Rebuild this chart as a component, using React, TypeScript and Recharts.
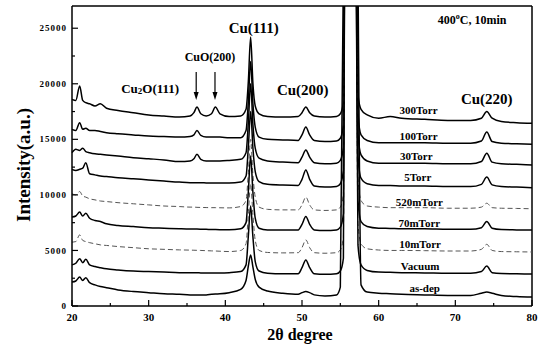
import React from 'react';
import { LineChart, Line, XAxis, YAxis, ReferenceLine, ReferenceDot } from 'recharts';

const SERIF = '"Liberation Serif", "Times New Roman", serif';

const twoTheta = [
  20, 20.5, 21.0, 21.4, 21.8, 22.3, 23.0, 23.7, 24.5, 26, 28, 30, 32, 34,
  35.4, 35.9, 36.3, 36.8, 37.5, 38.2, 38.7, 39.3, 40.5, 42.0, 42.7, 43.0, 43.3, 43.6, 43.9, 44.4,
  45.5, 47.5, 49.5, 50.0, 50.5, 51.0, 51.6, 53.0, 54.5, 55.0, 55.4, 55.6, 56.3, 57.0, 57.3, 57.7,
  58.5, 60, 61.5, 63, 66, 69, 72, 73.4, 74.1, 74.8, 76, 78, 80,
];

const s300Torr = [
  18600, 18500, 19800, 18500, 18300, 18200, 18000, 18200, 17800, 17600, 17400, 17200, 17100, 17000,
  17100, 17400, 17900, 17300, 17100, 17300, 17900, 17300, 17050, 17100, 17700, 20200, 24200, 20000, 18000, 17300,
  17050, 17000, 17050, 17400, 17900, 17400, 17100, 17000, 17050, 17300, 18300, 40000, 80000, 40000, 19000, 17700,
  17200, 16900, 17050, 16900, 16800, 16700, 16700, 16900, 17500, 16900, 16600, 16500, 16450,
];
const s100Torr = [
  15900, 15800, 16500, 15900, 16000, 15800, 15800, 15700, 15600, 15500, 15400, 15300, 15250, 15200,
  15250, 15400, 15800, 15350, 15200, 15200, 15200, 15200, 15150, 15150, 15800, 18400, 22000, 18200, 16100, 15200,
  15000, 14950, 14900, 15400, 16100, 15400, 14900, 14800, 14850, 15100, 16300, 40000, 80000, 40000, 17300, 15400,
  14900, 14700, 14700, 14700, 14700, 14650, 14650, 14850, 15650, 14800, 14650, 14600, 14550,
];
const s30Torr = [
  13800, 14100, 14000, 14200, 13900, 13800, 13700, 13650, 13600, 13500, 13350, 13250, 13150, 13000,
  13050, 13250, 13650, 13200, 13050, 13050, 13050, 13050, 13100, 13200, 13800, 16500, 20000, 16300, 14200, 13300,
  13050, 12950, 12900, 13400, 14050, 13400, 12900, 12800, 12850, 13100, 14300, 40000, 80000, 40000, 15500, 13600,
  13050, 12850, 12850, 12850, 12850, 12800, 12800, 13000, 13750, 12950, 12800, 12750, 12700,
];
const s5Torr = [
  12300, 12200, 12300, 12400, 12900, 11900, 11800, 11700, 11650, 11550, 11450, 11350, 11250, 11150,
  11100, 11100, 11100, 11100, 11080, 11070, 11070, 11070, 11070, 11150, 11700, 14300, 17500, 14200, 12100, 11200,
  10950, 10880, 10850, 11400, 12250, 11400, 10800, 10700, 10750, 11000, 12200, 40000, 80000, 40000, 13500, 11500,
  11000, 10850, 10850, 10800, 10800, 10750, 10750, 10950, 11600, 10900, 10750, 10700, 10650,
];
const s520mTorr = [
  10100, 10000, 10300, 9900, 9800, 9650, 9550, 9450, 9400, 9300, 9200, 9100, 9000, 8950,
  8900, 8900, 8880, 8870, 8860, 8850, 8850, 8840, 8830, 8950, 9500, 12000, 15000, 11800, 9800, 8900,
  8700, 8650, 8650, 9100, 9800, 9100, 8650, 8600, 8650, 8900, 10100, 40000, 80000, 40000, 11500, 9500,
  9000, 8900, 8850, 8850, 8850, 8800, 8800, 8900, 9250, 8850, 8800, 8780, 8750,
];
const s70mTorr = [
  8000, 8100, 8450, 8100, 8350, 7900, 7700, 7600, 7400, 7250, 7150, 7050, 7000, 6950,
  6930, 6930, 6920, 6910, 6900, 6890, 6880, 6870, 6860, 6950, 7500, 10300, 13500, 10200, 7900, 7000,
  6850, 6830, 6850, 7350, 8050, 7350, 6850, 6800, 6850, 7100, 8300, 40000, 80000, 40000, 9500, 7600,
  7150, 7000, 6980, 6950, 6950, 6900, 6900, 7050, 7600, 7000, 6880, 6850, 6830,
];
const s10mTorr = [
  5750, 5800, 6400, 5900, 5800, 5700, 5600, 5500, 5450, 5350, 5250, 5150, 5100, 5050,
  5030, 5020, 5010, 5000, 4980, 4960, 4950, 4930, 4900, 5000, 5600, 8300, 11000, 8200, 5900, 5000,
  4820, 4780, 4800, 5250, 5950, 5250, 4800, 4750, 4800, 5050, 6200, 40000, 80000, 40000, 7400, 5600,
  5150, 5040, 5000, 5000, 4980, 4950, 4950, 5100, 5550, 5000, 4900, 4880, 4860,
];
const sVacuum = [
  3700, 3850, 4250, 3900, 4200, 3700, 3550, 3450, 3350, 3250, 3150, 3100, 3050, 3000,
  3000, 2990, 2990, 2980, 2980, 2970, 2970, 2970, 3000, 3100, 3700, 6300, 9000, 6200, 4000, 3150,
  2950, 2900, 2900, 3450, 4150, 3450, 2900, 2850, 2900, 3150, 4300, 40000, 80000, 40000, 5500, 3700,
  3200, 3050, 3030, 3000, 2980, 2950, 2950, 3100, 3600, 3000, 2920, 2900, 2880,
];
const sAsDep = [
  2150, 2250, 2600, 2300, 2550, 2100, 1900, 1750, 1650, 1450, 1300, 1200, 1100, 1050,
  1000, 1000, 1000, 1000, 1000, 1050, 1080, 1100, 1200, 1500, 2300, 3600, 4600, 3500, 2400, 1700,
  1350, 1150, 1050, 1200, 1300, 1200, 1000, 900, 1000, 1700, 30000, 60000, 90000, 60000, 30000, 1900,
  1250, 1150, 1100, 1050, 1000, 950, 950, 1150, 1250, 1150, 950, 850, 800,
];

const seriesNames = ['300Torr', '100Torr', '30Torr', '5Torr', '520mTorr', '70mTorr', '10mTorr', 'Vacuum', 'as-dep'];
const seriesValues = [s300Torr, s100Torr, s30Torr, s5Torr, s520mTorr, s70mTorr, s10mTorr, sVacuum, sAsDep];
const dashedSeries = ['520mTorr', '10mTorr'];

const xTicks = [20, 25, 30, 35, 40, 45, 50, 55, 60, 65, 70, 75, 80];
const yTicks = [0, 2500, 5000, 7500, 10000, 12500, 15000, 17500, 20000, 22500, 25000];

// curve name labels: [2theta, intensity] of the text centre
const curveLabelAt = [
  [65.2, 17640], [65.2, 15300], [64.9, 13500], [65.1, 11610], [65.3, 9360],
  [65.3, 7470], [65.4, 5580], [65.4, 3600], [66.0, 1620],
];

const peakLabels = [
  { text: 'Cu(111)', at: [43.7, 25020], size: 15 },
  { text: 'Cu(200)', at: [50.1, 19440], size: 15 },
  { text: 'Cu(220)', at: [74.1, 18630], size: 15 },
];

const arrowsAt = [36.2, 38.65];

const data = twoTheta.map((t, i) => {
  const row: Record<string, number> = { t };
  seriesNames.forEach((name, j) => {
    row[name] = seriesValues[j][i];
  });
  return row;
});

const XTick = (props: any) => {
  const { x, y, payload } = props;
  const major = payload.value % 10 === 0;
  return (
    <g>
      <line x1={x} x2={x} y1={y} y2={y - (major ? 6 : 3)} stroke="#000" strokeWidth={1.2} />
      {major && (
        <text x={x} y={y + 15} textAnchor="middle" fontSize={11} fontWeight="bold" fontFamily={SERIF} fill="#000">
          {payload.value}
        </text>
      )}
    </g>
  );
};

const YTick = (props: any) => {
  const { x, y, payload } = props;
  const major = payload.value % 5000 === 0;
  return (
    <g>
      <line x1={x} x2={x + (major ? 6 : 3)} y1={y} y2={y} stroke="#000" strokeWidth={1.2} />
      {major && (
        <text x={x - 5} y={y} dy="0.35em" textAnchor="end" fontSize={9} letterSpacing={1} fontWeight="bold" fontFamily={SERIF} fill="#000">
          {payload.value}
        </text>
      )}
    </g>
  );
};

const textShape = (content: React.ReactNode, size: number) => (p: any) => (
  <text x={p.cx} y={p.cy} textAnchor="middle" dominantBaseline="central" fontSize={size} fontWeight="bold" fontFamily={SERIF} fill="#000">
    {content}
  </text>
);

const arrowHead = (p: any) => (
  <polygon points={`${p.cx},${p.cy} ${p.cx - 2.5},${p.cy - 8} ${p.cx + 2.5},${p.cy - 8}`} fill="#000" />
);

export default function App() {
  return (
    <div style={{ position: 'absolute', left: 0, top: 0, width: 543, height: 347, background: '#fff' }}>
      <LineChart width={543} height={347} data={data} margin={{ top: 6, right: 11, bottom: 0, left: 0 }}>
        <XAxis
          dataKey="t"
          type="number"
          domain={[20, 80]}
          ticks={xTicks}
          interval={0}
          height={41}
          tickSize={0}
          tickMargin={0}
          tick={<XTick />}
          axisLine={{ stroke: '#000', strokeWidth: 1.5 }}
        />
        <YAxis
          type="number"
          domain={[0, 27000]}
          allowDataOverflow
          ticks={yTicks}
          interval={0}
          width={72}
          tickSize={0}
          tickMargin={0}
          tick={<YTick />}
          axisLine={{ stroke: '#000', strokeWidth: 1.5 }}
        />
        <ReferenceLine y={27000} stroke="#000" strokeWidth={1.5} />
        <ReferenceLine x={80} stroke="#000" strokeWidth={1.5} />
        {seriesNames.map((name) => {
          const dashed = dashedSeries.includes(name);
          return (
            <Line
              key={name}
              dataKey={name}
              type="monotone"
              stroke={dashed ? '#555' : '#000'}
              strokeWidth={dashed ? 1 : 1.5}
              strokeDasharray={dashed ? '5 3' : undefined}
              dot={false}
              activeDot={false}
              isAnimationActive={false}
            />
          );
        })}
        {seriesNames.map((name, i) => (
          <ReferenceDot key={'lab' + name} x={curveLabelAt[i][0]} y={curveLabelAt[i][1]} r={0} shape={textShape(name, 11)} />
        ))}
        {peakLabels.map((l) => (
          <ReferenceDot key={l.text} x={l.at[0]} y={l.at[1]} r={0} shape={textShape(l.text, l.size)} />
        ))}
        <ReferenceDot
          x={30.2}
          y={19620}
          r={0}
          shape={textShape(
            <>
              Cu<tspan dy={3} fontSize={9}>2</tspan>
              <tspan dy={-3}>O(111)</tspan>
            </>,
            13
          )}
        />
        <ReferenceDot x={38.0} y={22410} r={0} shape={textShape('CuO(200)', 12)} />
        <ReferenceDot
          x={72.2}
          y={25740}
          r={0}
          shape={textShape(
            <>
              400<tspan dy={-4} fontSize={8}>o</tspan>
              <tspan dy={4}>C, 10min</tspan>
            </>,
            12
          )}
        />
        {arrowsAt.map((a) => (
          <ReferenceLine
            key={'shaft' + a}
            segment={[
              { x: a, y: 21060 },
              { x: a, y: 19000 },
            ]}
            stroke="#000"
            strokeWidth={1.2}
          />
        ))}
        {arrowsAt.map((a) => (
          <ReferenceDot key={'head' + a} x={a} y={18540} r={0} shape={arrowHead} />
        ))}
        <text
          x={23}
          y={165}
          transform="rotate(-90 23 165)"
          textAnchor="middle"
          dominantBaseline="central"
          fontSize={19}
          fontWeight="bold"
          fontFamily={SERIF}
          fill="#000"
        >
          Intensity(a.u.)
        </text>
        <text x={300} y={334} textAnchor="middle" dominantBaseline="central" fontSize={16} fontWeight="bold" fontFamily={SERIF} fill="#000">
          2θ degree
        </text>
      </LineChart>
    </div>
  );
}
